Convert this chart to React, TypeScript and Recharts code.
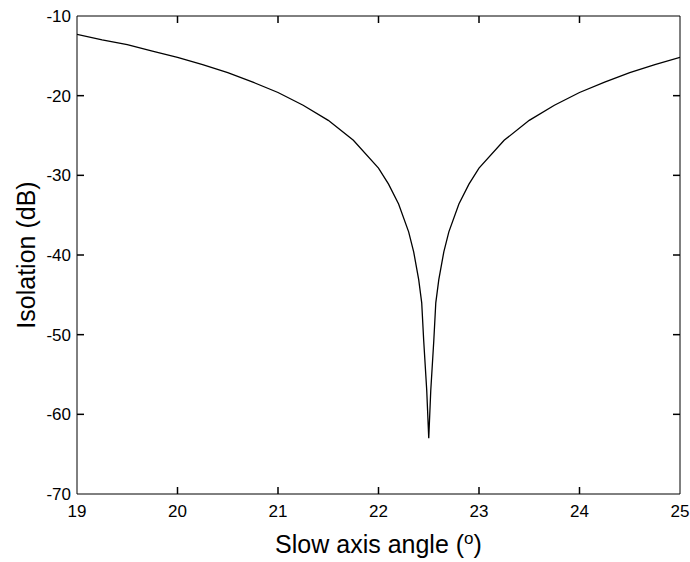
import { LineChart, Line, XAxis, YAxis, ReferenceLine } from "recharts";

// slow axis angle (deg) and isolation (dB)
const angle = [
  19, 19.25, 19.5, 19.75, 20, 20.25, 20.5, 20.75, 21, 21.25, 21.5, 21.75, 22,
  22.1, 22.2, 22.3, 22.35, 22.4, 22.43, 22.45, 22.48, 22.5, 22.52, 22.55, 22.57,
  22.6, 22.65, 22.7, 22.8, 22.9, 23, 23.25, 23.5, 23.75, 24, 24.25, 24.5, 24.75, 25,
];
const isolation = [
  -12.3, -13.0, -13.6, -14.4, -15.2, -16.1, -17.1, -18.3, -19.6, -21.2, -23.1, -25.6, -29.1,
  -31.1, -33.6, -37.1, -39.6, -43.1, -46.0, -50.8, -57.0, -63.0, -57.0, -50.8, -46.0,
  -43.1, -39.6, -37.1, -33.6, -31.1, -29.1, -25.6, -23.1, -21.2, -19.6, -18.3, -17.1, -16.1, -15.2,
];

const xTicks = [19, 20, 21, 22, 23, 24, 25];
const yTicks = [-70, -60, -50, -40, -30, -20, -10];

const data = angle.map((a, i) => ({ angle: a, isolation: isolation[i] }));

const font = "'Liberation Sans', Arial, Helvetica, sans-serif";
const TICK = 7;

const bottomTick = ({ x, y, payload }: any) => (
  <text x={x} y={y + 23} textAnchor="middle" fontSize={17} fontFamily={font} fill="#000">
    {payload.value}
  </text>
);

const leftTick = ({ x, y, payload }: any) => (
  <text x={x - 6} y={y + 6} textAnchor="end" fontSize={17} fontFamily={font} fill="#000">
    {payload.value}
  </text>
);

// inward tick marks at both ends of a reference line (matlab box style)
const vTicks = (props: any) => {
  const { x1, y1, y2 } = props;
  const lo = Math.min(y1, y2);
  const hi = Math.max(y1, y2);
  return (
    <g>
      <line x1={x1} x2={x1} y1={hi} y2={hi - TICK} stroke="#000" strokeWidth={1.5} />
      <line x1={x1} x2={x1} y1={lo} y2={lo + TICK} stroke="#000" strokeWidth={1.5} />
    </g>
  );
};

const hTicks = (props: any) => {
  const { x1, x2, y1 } = props;
  const lo = Math.min(x1, x2);
  const hi = Math.max(x1, x2);
  return (
    <g>
      <line x1={lo} x2={lo + TICK} y1={y1} y2={y1} stroke="#000" strokeWidth={1.5} />
      <line x1={hi} x2={hi - TICK} y1={y1} y2={y1} stroke="#000" strokeWidth={1.5} />
    </g>
  );
};

const XLabel = ({ viewBox }: any) => (
  <text
    x={viewBox.x + viewBox.width / 2}
    y={viewBox.y + 59}
    textAnchor="middle"
    fontSize={25}
    fontFamily={font}
    fill="#000"
  >
    Slow axis angle (
    <tspan fontSize={17} dy={-9}>o</tspan>
    <tspan dy={9}>)</tspan>
  </text>
);

const YLabel = ({ viewBox }: any) => {
  const cx = viewBox.x + 9;
  const cy = viewBox.y + viewBox.height / 2;
  return (
    <text
      x={cx}
      y={cy}
      transform={`rotate(-90 ${cx} ${cy})`}
      textAnchor="middle"
      dominantBaseline="central"
      fontSize={25}
      fontFamily={font}
      fill="#000"
    >
      Isolation (dB)
    </text>
  );
};

export default function App() {
  return (
    <div style={{ position: "absolute", left: 0, top: 0, background: "#fff" }}>
      <LineChart width={690} height={562} data={data} margin={{ top: 15, right: 9, bottom: 8, left: 17 }}>
        <XAxis
          xAxisId="bottom"
          type="number"
          dataKey="angle"
          domain={[19, 25]}
          ticks={xTicks}
          allowDataOverflow
          height={60}
          tickSize={0}
          tickMargin={0}
          tickLine={false}
          axisLine={{ stroke: "#000" }}
          tick={bottomTick}
          label={{ content: <XLabel /> }}
        />
        <XAxis
          xAxisId="top"
          orientation="top"
          type="number"
          dataKey="angle"
          domain={[19, 25]}
          height={1}
          tick={false}
          tickLine={false}
          axisLine={{ stroke: "#000" }}
        />
        <YAxis
          yAxisId="left"
          type="number"
          domain={[-70, -10]}
          ticks={yTicks}
          allowDataOverflow
          width={60}
          tickSize={0}
          tickMargin={0}
          tickLine={false}
          axisLine={{ stroke: "#000" }}
          tick={leftTick}
          label={{ content: <YLabel /> }}
        />
        <YAxis
          yAxisId="right"
          orientation="right"
          type="number"
          domain={[-70, -10]}
          width={1}
          tick={false}
          tickLine={false}
          axisLine={{ stroke: "#000" }}
        />
        {xTicks.slice(1, -1).map((v) => (
          <ReferenceLine
            key={`xt-${v}`}
            xAxisId="bottom"
            yAxisId="left"
            x={v}
            stroke="#000"
            ifOverflow="visible"
            shape={vTicks}
          />
        ))}
        {yTicks.slice(1, -1).map((v) => (
          <ReferenceLine
            key={`yt-${v}`}
            xAxisId="bottom"
            yAxisId="left"
            y={v}
            stroke="#000"
            ifOverflow="visible"
            shape={hTicks}
          />
        ))}
        <Line
          xAxisId="bottom"
          yAxisId="left"
          type="linear"
          dataKey="isolation"
          stroke="#000"
          strokeWidth={1.3}
          dot={false}
          isAnimationActive={false}
        />
      </LineChart>
    </div>
  );
}
